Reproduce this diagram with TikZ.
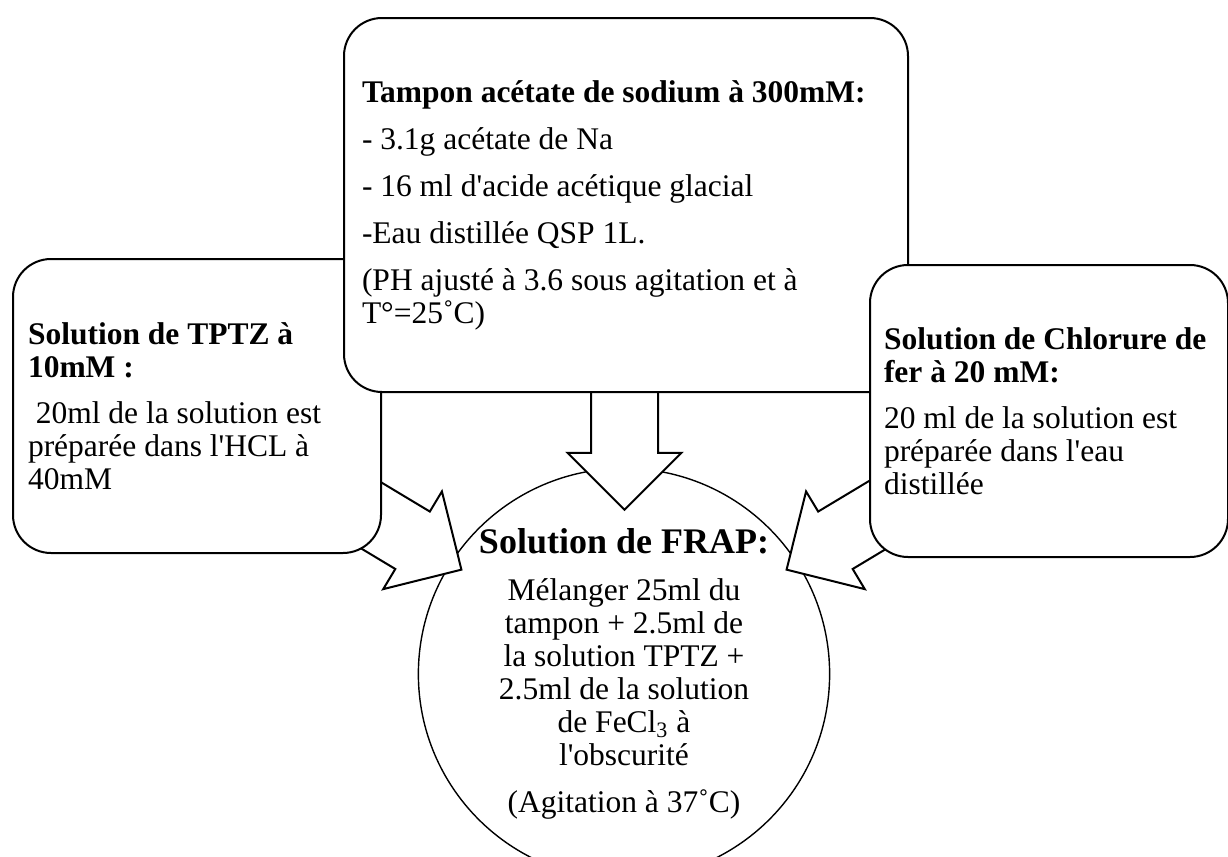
\documentclass[tikz,border=0pt]{standalone}
\usepackage{fontspec}
\setmainfont{Liberation Serif}[Ligatures=TeXOff]
\usetikzlibrary{shapes.arrows}

\begin{document}
\begin{tikzpicture}[x=0.5pt,y=-0.5pt,
    box/.style={draw,line width=1pt,rounded corners=19pt,fill=white,
      align=left,anchor=north west,font=\fontsize{15.75}{16.5}\selectfont,
      execute at begin node={\spaceskip=0pt\xspaceskip=0pt\relax}},
    blockarrow/.style={single arrow,draw,line width=1pt,fill=white,
      inner xsep=0pt,inner ysep=16.25pt,minimum width=0pt,
      single arrow head extend=11.75pt}]
  \clip (0,0) rectangle (1228,857);
  \fill[white] (0,0) rectangle (1228,857);

  \node[circle,draw,line width=0.7pt,minimum size=194pt,inner sep=0pt,
    align=center,font=\fontsize{15.75}{16.5}\selectfont] (frap) at (624,674)
    {{\fontsize{18}{18}\selectfont\bfseries Solution de FRAP:}\\[7pt]
     Mélanger 25ml du\\
     tampon + 2.5ml de\\
     la solution TPTZ +\\
     2.5ml de la solution\\
     de FeCl\textsubscript{3} à\\
     l'obscurité\\[7pt]
     (Agitation à 37˚C)};

  \node[blockarrow,minimum height=80pt,rotate=-31] (flechetptz) at (378.5,519.8) {};
  \node[blockarrow,minimum height=80pt,rotate=-149] (flechefer) at (869.5,519.8) {};
  \node[blockarrow,minimum height=81.5pt,rotate=-90] (flechetampon) at (624.5,411.5) {};

  \node[box,text width=169pt,minimum height=147pt,inner xsep=7.5pt] (tptz) at (12,258)
    {\textbf{Solution de TPTZ à}\\
     \textbf{10mM :}\\[6.5pt]
     \hspace*{0.25em}20ml de la solution est\\
     préparée dans l'HCL à\\
     40mM};

  \node[box,text width=264pt,minimum height=187pt,inner xsep=9pt] (tampon) at (343,17)
    {\textbf{Tampon acétate de sodium à 300mM:}\\[7pt]
     - 3.1g acétate de Na\\[7pt]
     - 16 ml d'acide acétique glacial\\[7pt]
     -Eau distillée QSP 1L.\\[7pt]
     (PH ajusté à 3.6 sous agitation et à\\
     T°=25˚C)};

  \node[box,text width=165pt,minimum height=146pt,inner xsep=7pt] (chlorure) at (869,264)
    {\textbf{Solution de Chlorure de}\\
     \textbf{fer à 20 mM:}\\[6.5pt]
     20 ml de la solution est\\
     préparée dans l'eau\\
     distillée};
\end{tikzpicture}
\end{document}
